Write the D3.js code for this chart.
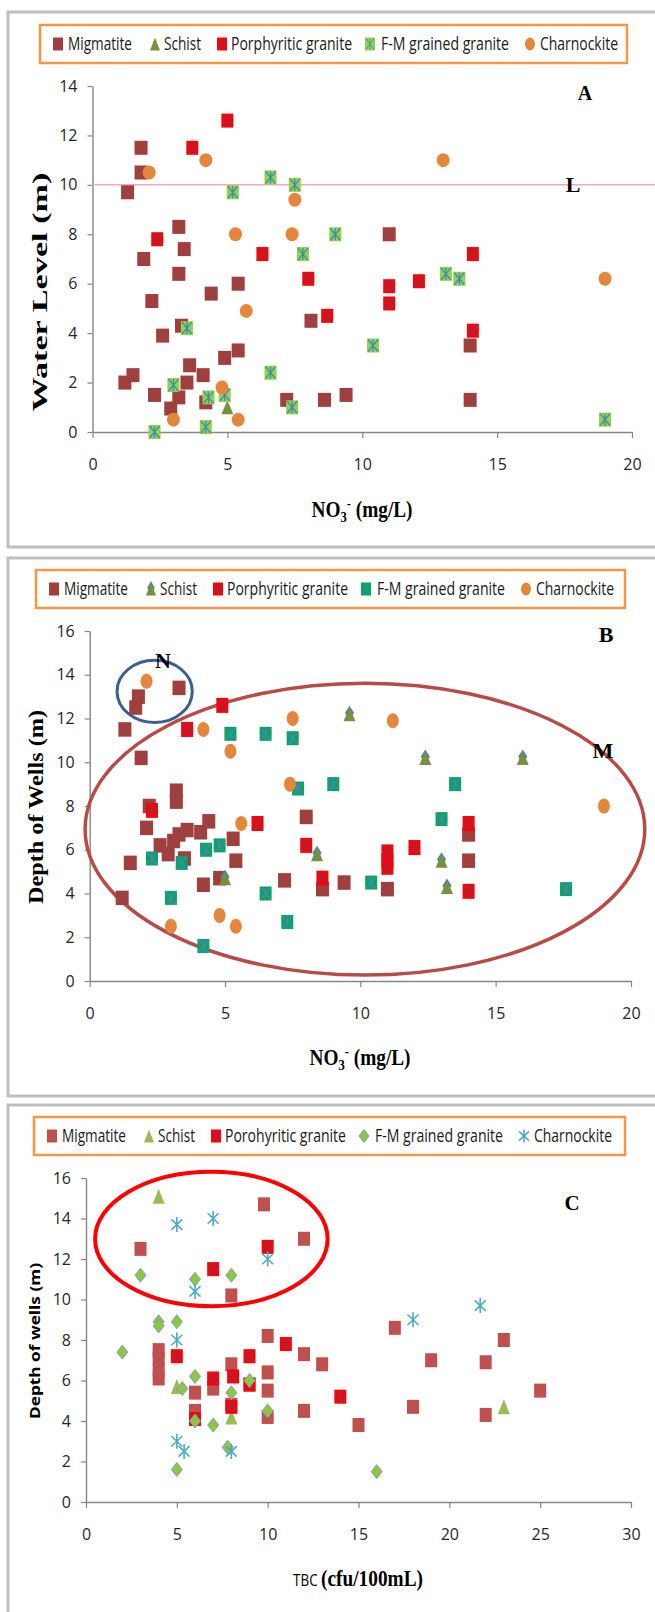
<!DOCTYPE html>
<html>
<head>
<meta charset="utf-8">
<script src="https://cdn.jsdelivr.net/npm/d3@7"></script>
<style>
  body { margin: 0; background: #fff; overflow: hidden; }
  svg { display: block; }
</style>
</head>
<body>
<div id="chart-area"></div>
<script>
// series names (panel C legend keeps the original spelling)
var namesAB = ["Migmatite", "Schist", "Porphyritic granite", "F-M grained granite", "Charnockite"];
var namesC = ["Migmatite", "Schist", "Porohyritic granite", "F-M grained granite", "Charnockite"];

// ticks
var noxTicks = [0, 5, 10, 15, 20];
var waterTicks = [0, 2, 4, 6, 8, 10, 12, 14];
var depthTicks = [0, 2, 4, 6, 8, 10, 12, 14, 16];
var tbcTicks = [0, 5, 10, 15, 20, 25, 30];

// Panel A : NO3- (mg/L) vs water level (m)
var aMigmatite = [[1.8,11.5],[1.8,10.5],[1.3,9.7],[3.2,8.3],[3.4,7.4],[1.9,7.0],[3.2,6.4],[5.4,6.0],[4.4,5.6],[2.2,5.3],
    [3.3,4.3],[2.6,3.9],[8.1,4.5],[11.0,8.0],[14.0,3.5],[5.4,3.3],[4.9,3.0],[3.6,2.7],[4.1,2.3],[1.5,2.3],
    [1.2,2.0],[3.5,2.0],[2.3,1.5],[3.2,1.4],[2.9,0.95],[4.2,1.2],[7.2,1.3],[8.6,1.3],[9.4,1.5],[14.0,1.3]];
var aSchist = [[5.0,1.0]];
var aPorphyritic = [[5.0,12.6],[3.7,11.5],[2.4,7.8],[6.3,7.2],[8.0,6.2],[11.0,5.9],[11.0,5.2],[12.1,6.1],[8.7,4.7],[14.1,7.2],[14.1,4.1]];
var aFMgrained = [[6.6,10.3],[7.5,10.0],[5.2,9.7],[9.0,8.0],[7.8,7.2],[13.1,6.4],[13.6,6.2],[3.5,4.2],[10.4,3.5],[6.6,2.4],
    [3.0,1.9],[4.3,1.4],[4.9,1.5],[7.4,1.0],[2.3,0.0],[4.2,0.2],[19.0,0.5]];
var aCharnockite = [[2.1,10.5],[4.2,11.0],[13.0,11.0],[7.5,9.4],[5.3,8.0],[7.4,8.0],[19.0,6.2],[5.7,4.9],[4.8,1.8],[3.0,0.5],[5.4,0.5]];
var aLimit = 10;

// Panel B : NO3- (mg/L) vs depth of wells (m)
var bMigmatite = [[3.3,13.4],[1.8,13.0],[1.7,12.5],[1.3,11.5],[1.9,10.2],[3.2,8.7],[3.2,8.2],[2.2,8.0],[2.1,7.0],[4.4,7.3],
    [4.1,6.8],[3.6,6.9],[3.3,6.7],[3.1,6.4],[2.6,6.2],[2.9,5.8],[3.5,5.6],[1.5,5.4],[5.3,6.5],[5.4,5.5],
    [4.8,4.7],[4.2,4.4],[1.2,3.8],[8.0,7.5],[7.2,4.6],[8.6,4.2],[9.4,4.5],[11.0,4.2],[14.0,6.7],[14.0,5.5]];
var bSchist = [[9.6,12.2],[12.4,10.2],[16.0,10.2],[8.4,5.8],[13.0,5.5],[13.2,4.3],[5.0,4.7]];
var bPorphyritic = [[4.9,12.6],[3.6,11.5],[2.3,7.8],[6.2,7.2],[8.0,6.2],[8.6,4.7],[11.0,5.9],[11.0,5.5],[11.0,5.2],[12.0,6.1],[14.0,7.2],[14.0,4.1]];
var bFMgrained = [[5.2,11.3],[6.5,11.3],[7.5,11.1],[7.7,8.8],[9.0,9.0],[13.5,9.0],[13.0,7.4],[17.6,4.2],[4.8,6.2],[4.3,6.0],
    [2.3,5.6],[3.4,5.4],[10.4,4.5],[6.5,4.0],[3.0,3.8],[7.3,2.7],[4.2,1.6]];
var bCharnockite = [[2.1,13.7],[7.5,12.0],[11.2,11.9],[4.2,11.5],[5.2,10.5],[7.4,9.0],[5.6,7.2],[19.0,8.0],[4.8,3.0],[5.4,2.5],[3.0,2.5]];
// annotation ellipses [cx, cy, rx, ry] in data units
var bGroupN = [2.4, 13.24, 1.39, 1.42];
var bGroupM = [10.17, 6.94, 10.34, 6.67];

// Panel C : TBC (cfu/100mL) vs depth of wells (m)
var cMigmatite = [[9.8,14.7],[12,13.0],[3,12.5],[8,10.2],[4,7.5],[4,7.1],[4,6.5],[4,6.1],[10,8.2],[12,7.3],
    [13,6.8],[8,6.8],[10,6.4],[10,5.5],[6,5.4],[7,5.6],[6,4.5],[8,4.8],[9,5.8],[10,4.2],
    [12,4.5],[15,3.8],[17,8.6],[18,4.7],[19,7.0],[22,6.9],[22,4.3],[23,8.0],[25,5.5]];
var cSchist = [[4,15.1],[5,5.7],[8,4.2],[23,4.7]];
var cPorohyritic = [[10,12.6],[7,11.5],[5,7.2],[9,7.2],[11,7.8],[7,6.1],[8.1,6.2],[9,5.8],[8,4.7],[14,5.2],[6,4.1]];
var cFMgrained = [[3,11.2],[6,11.0],[8,11.2],[4,8.9],[4,8.7],[5,8.9],[2,7.4],[6,6.2],[5.3,5.6],[8,5.4],
    [9,6.0],[10,4.5],[6,4.0],[7,3.8],[7.8,2.7],[5,1.6],[16,1.5]];
var cCharnockite = [[5,13.7],[7,14.0],[10,12.0],[6,10.4],[5,8.0],[5,3.0],[5.4,2.5],[8,2.5],[18,9.0],[21.7,9.7]];
var cGroup = [6.9, 12.99, 6.4, 3.32];

var svg = d3.select("#chart-area").append("svg")
    .attr("width", 655)
    .attr("height", 1612);

//draw one marker shape into each selected g (centered at 0,0)
function shape(m, kind, st) {
    var w = st.w / 2, h = st.h / 2;
    if (kind == "triangleB") {
        m.append("path")
            .attr("d", "M0," + (-h - 1.5) + "L" + (w * 0.75) + "," + (-h * 0.2) + "L0," + h + "L" + (-w * 0.75) + "," + (-h * 0.2) + "Z")
            .attr("fill", "#4F81BD");
    }
    if (kind == "square" || kind == "squareX" || kind == "squareStar") {
        m.append("rect")
            .attr("x", -w).attr("y", -h)
            .attr("width", 2 * w).attr("height", 2 * h)
            .attr("fill", st.fill);
        if (kind != "square") {
            var p = "M" + (-w + 1) + "," + (-h + 1) + "L" + (w - 1) + "," + (h - 1) +
                    "M" + (w - 1) + "," + (-h + 1) + "L" + (-w + 1) + "," + (h - 1);
            if (kind == "squareStar") p += "M0," + (-h + 1) + "L0," + (h - 1);
            m.append("path").attr("d", p)
                .attr("stroke", st.line).attr("stroke-width", st.lw || 1).attr("fill", "none");
        }
    } else if (kind == "triangle" || kind == "triangleB") {
        m.append("path")
            .attr("d", "M0," + (-h) + "L" + w + "," + h + "L" + (-w) + "," + h + "Z")
            .attr("fill", st.fill);
    } else if (kind == "circle") {
        m.append("ellipse").attr("rx", w).attr("ry", h).attr("fill", st.fill);
    } else if (kind == "diamond") {
        m.append("path")
            .attr("d", "M0," + (-h) + "L" + w + ",0L0," + h + "L" + (-w) + ",0Z")
            .attr("fill", st.fill).attr("stroke", st.line).attr("stroke-width", 1);
    } else if (kind == "asterisk") {
        m.append("path")
            .attr("d", "M" + (-w) + "," + (-h * 0.7) + "L" + w + "," + (h * 0.7) +
                       "M" + w + "," + (-h * 0.7) + "L" + (-w) + "," + (h * 0.7) +
                       "M0," + (-h) + "L0," + h)
            .attr("stroke", st.line).attr("stroke-width", 1.6).attr("fill", "none");
    }
}

function drawPanel(p) {
    var g = svg.append("g");

    //frame (right and bottom edges run off the picture)
    g.append("rect")
        .attr("x", 8).attr("y", p.frame[0])
        .attr("width", 720).attr("height", p.frame[1] - p.frame[0])
        .attr("fill", "none").attr("stroke", "#BEBEBE").attr("stroke-width", 3);

    var x = d3.scaleLinear().domain(p.xDomain).range(p.xRange);
    var y = d3.scaleLinear().domain(p.yDomain).range(p.yRange);

    //axes
    var xAxis = g.append("g")
        .attr("transform", "translate(0," + p.yRange[0] + ")")
        .call(d3.axisBottom(x).tickValues(p.xTicks).tickSize(6).tickPadding(21).tickSizeOuter(0));
    var yAxis = g.append("g")
        .attr("transform", "translate(" + p.xRange[0] + ",0)")
        .call(d3.axisLeft(y).tickValues(p.yTicks).tickSize(5).tickPadding(10).tickSizeOuter(0));
    [xAxis, yAxis].forEach(function(a) {
        a.select(".domain").attr("stroke", "#868686").attr("stroke-width", 1.4);
        a.selectAll(".tick line").attr("stroke", "#868686").attr("stroke-width", 1.2);
        a.selectAll("text")
            .style("font-family", "'Open Sans', sans-serif")
            .style("font-size", "16px")
            .attr("fill", "#262626");
    });

    //annotation ellipses / limit line under the markers
    (p.ellipses || []).forEach(function(e) {
        g.append("ellipse")
            .attr("cx", x(e.d[0])).attr("cy", y(e.d[1]))
            .attr("rx", x(e.d[0] + e.d[2]) - x(e.d[0]))
            .attr("ry", y(e.d[1]) - y(e.d[1] + e.d[3]))
            .attr("fill", "none").attr("stroke", e.color).attr("stroke-width", e.width);
    });
    if (p.limit != null) {
        g.append("line")
            .attr("x1", p.xRange[0]).attr("x2", 655)
            .attr("y1", y(p.limit)).attr("y2", y(p.limit))
            .attr("stroke", "#FFA3CB").attr("stroke-width", 1.5);
    }

    //markers, series in drawing order
    p.series.forEach(function(s) {
        var m = g.selectAll(null)
            .data(s.data)
            .enter()
            .append("g")
            .attr("transform", function(d) { return "translate(" + x(d[0]) + "," + y(d[1]) + ")"; });
        shape(m, s.kind, s.st);
    });

    //legend
    var lg = g.append("g").attr("transform", "translate(" + p.legend[0] + "," + p.legend[1] + ")");
    lg.append("rect")
        .attr("width", p.legend[2]).attr("height", 38)
        .attr("fill", "#fff").attr("stroke", "#F79646").attr("stroke-width", 2.5);
    var markX = [18, 115, 182, 330, 490],
        textX = [28, 124, 191, 341, 500],
        textW = [64, 37, 121, 128, 78];
    p.series.forEach(function(s, i) {
        var m = lg.append("g").attr("transform", "translate(" + markX[i] + ",19)");
        shape(m, s.kind, {w: 10, h: 13, fill: s.st.fill, line: s.st.line, lw: 0.8});
        lg.append("text")
            .attr("x", textX[i]).attr("y", 19).attr("dy", "0.36em")
            .attr("textLength", textW[i]).attr("lengthAdjust", "spacingAndGlyphs")
            .style("font-family", "'Open Sans', sans-serif")
            .style("font-size", "18px")
            .attr("fill", "#1a1a1a")
            .text(s.name);
    });

    //titles
    var xt = g.append("text")
        .attr("transform", "translate(" + p.xTitle[0] + "," + p.xTitle[1] + ") scale(0.84,1)")
        .attr("text-anchor", "middle")
        .style("font-family", "'Liberation Serif', serif")
        .style("font-weight", "bold")
        .style("font-size", "23px");
    p.xTitleParts(xt);

    g.append("text")
        .attr("transform", "translate(" + p.yTitle[0] + "," + p.yTitle[1] + ") rotate(-90)")
        .attr("text-anchor", "middle")
        .attr("textLength", p.yTitle[2]).attr("lengthAdjust", "spacingAndGlyphs")
        .style("font-family", p.yTitleFont)
        .style("font-weight", "bold")
        .style("font-size", p.yTitle[3] + "px")
        .text(p.yTitleText);

    //letters
    p.labels.forEach(function(l) {
        g.append("text")
            .attr("x", l[1]).attr("y", l[2])
            .attr("text-anchor", "middle")
            .style("font-family", "'Liberation Serif', serif")
            .style("font-weight", "bold")
            .style("font-size", l[3] + "px")
            .text(l[0]);
    });
}

function noxTitle(t) {
    t.append("tspan").text("NO");
    t.append("tspan").attr("dy", 5).style("font-size", "15px").text("3");
    t.append("tspan").attr("dy", -14).style("font-size", "15px").text("-");
    t.append("tspan").attr("dy", 9).text(" (mg/L)");
}

drawPanel({
    frame: [12, 547],
    xDomain: [0, 20], xRange: [92.5, 632],
    yDomain: [0, 14], yRange: [432, 86],
    xTicks: noxTicks, yTicks: waterTicks,
    limit: aLimit,
    legend: [40, 25, 587],
    series: [
        {name: namesAB[0], data: aMigmatite, kind: "square", st: {w: 13, h: 14, fill: "#A0403E"}},
        {name: namesAB[1], data: aSchist, kind: "triangle", st: {w: 12, h: 14, fill: "#76923C"}},
        {name: namesAB[2], data: aPorphyritic, kind: "squareX", st: {w: 12, h: 14, fill: "#FF0000", line: "#3F4F8F"}},
        {name: namesAB[3], data: aFMgrained, kind: "squareStar", st: {w: 12, h: 14, fill: "#92D050", line: "#3B8DB5", lw: 1.3}},
        {name: namesAB[4], data: aCharnockite, kind: "circle", st: {w: 13, h: 14, fill: "#E4873C"}}
    ],
    xTitle: [362, 517], xTitleParts: noxTitle,
    yTitle: [47, 292, 239, 21], yTitleText: "Water Level (m)", yTitleFont: "'Liberation Serif', serif",
    labels: [["A", 585, 100, 20], ["L", 573, 192, 22]]
});

drawPanel({
    frame: [558, 1096],
    xDomain: [0, 20], xRange: [89.7, 631],
    yDomain: [0, 16], yRange: [981, 631],
    xTicks: noxTicks, yTicks: depthTicks,
    legend: [36, 570, 589],
    ellipses: [
        {d: bGroupM, color: "#B84A47", width: 3.5},
        {d: bGroupN, color: "#3C5F8E", width: 3}
    ],
    series: [
        {name: namesAB[0], data: bMigmatite, kind: "square", st: {w: 13, h: 14.5, fill: "#A0403E"}},
        {name: namesAB[1], data: bSchist, kind: "triangleB", st: {w: 12, h: 14, fill: "#76923C"}},
        {name: namesAB[2], data: bPorphyritic, kind: "squareX", st: {w: 12, h: 15, fill: "#FF0000", line: "#3F4F8F"}},
        {name: namesAB[3], data: bFMgrained, kind: "squareStar", st: {w: 12, h: 14, fill: "#00A859", line: "#4F81BD", lw: 1.2}},
        {name: namesAB[4], data: bCharnockite, kind: "circle", st: {w: 12, h: 15, fill: "#E4873C"}}
    ],
    xTitle: [360, 1065], xTitleParts: noxTitle,
    yTitle: [43, 807, 194, 21], yTitleText: "Depth of Wells (m)", yTitleFont: "'Liberation Serif', serif",
    labels: [["B", 606, 642, 22], ["N", 163, 668, 22], ["M", 603, 758, 22]]
});

drawPanel({
    frame: [1105, 1700],
    xDomain: [0, 30], xRange: [86, 631],
    yDomain: [0, 16], yRange: [1502, 1178],
    xTicks: tbcTicks, yTicks: depthTicks,
    legend: [34, 1117, 591],
    ellipses: [
        {d: cGroup, color: "#FF0000", width: 4}
    ],
    series: [
        {name: namesC[0], data: cMigmatite, kind: "square", st: {w: 12, h: 14, fill: "#C0504D"}},
        {name: namesC[1], data: cSchist, kind: "triangle", st: {w: 12, h: 15, fill: "#9BBB59"}},
        {name: namesC[2], data: cPorohyritic, kind: "squareX", st: {w: 12, h: 14, fill: "#FF0000", line: "#3F4F8F"}},
        {name: namesC[3], data: cFMgrained, kind: "diamond", st: {w: 11, h: 14, fill: "#8DC63F", line: "#7F9FC8"}},
        {name: namesC[4], data: cCharnockite, kind: "asterisk", st: {w: 11, h: 15, line: "#4BACC6"}}
    ],
    xTitle: [358, 1586],
    xTitleParts: function(t) {
        t.append("tspan")
            .style("font-family", "'Open Sans', sans-serif")
            .style("font-weight", "normal")
            .style("font-size", "16px")
            .text("TBC ");
        t.append("tspan").text("(cfu/100mL)");
    },
    yTitle: [40, 1341, 156, 14], yTitleText: "Depth of wells (m)", yTitleFont: "'Open Sans', sans-serif",
    labels: [["C", 572, 1210, 21]]
});
</script>
</body>
</html>
